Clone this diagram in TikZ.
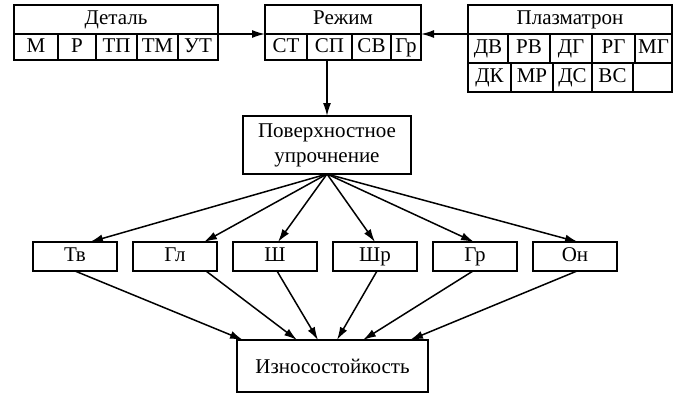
\documentclass[tikz,border=0pt]{standalone}
\usepackage{fontspec}
\setmainfont{Liberation Serif}
\usepackage{tikz}
\usetikzlibrary{arrows.meta, positioning}
\tikzset{
    cell/.style={
        rectangle, draw, line width=1.5pt,
        inner sep=0pt, outer sep=0pt,
        minimum height=26pt,
        text height=14pt, text depth=4pt
    },
    head/.style={cell, minimum width=204pt, minimum height=29pt},
    factor/.style={cell, minimum width=84pt, minimum height=29pt},
    block/.style={
        rectangle, draw, line width=1.5pt,
        align=center, inner sep=0pt, outer sep=0pt
    },
    arrow/.style={line width=1.5pt, -{Latex[length=13pt,width=8pt]}}
}
\begin{document}
\begin{tikzpicture}[x=1pt, y=-1pt, font=\fontsize{21}{25}\selectfont]
    \useasboundingbox (0,0) rectangle (678,397);

    % Tables
    \node (det) [head] at (116,19.5) {Деталь};
    \node (dm) [cell, minimum width=44pt, below right=0pt and 0pt of det.south west] {М};
    \node (dr) [cell, minimum width=38pt, right=0pt of dm] {Р};
    \node (dtp) [cell, minimum width=41pt, right=0pt of dr] {ТП};
    \node (dtm) [cell, minimum width=41pt, right=0pt of dtp] {ТМ};
    \node (dut) [cell, minimum width=40pt, right=0pt of dtm] {УТ};

    \node (rezh) [head, minimum width=156pt] at (343,19.5) {Режим};
    \node (rst) [cell, minimum width=42pt, below right=0pt and 0pt of rezh.south west] {СТ};
    \node (rsp) [cell, minimum width=45pt, right=0pt of rst] {СП};
    \node (rsv) [cell, minimum width=39pt, right=0pt of rsp] {СВ};
    \node (rgr) [cell, minimum width=30pt, right=0pt of rsv] {Гр};

    \node (plaz) [head] at (570,19.5) {Плазматрон};
    \node (pdv) [cell, minimum width=40pt, minimum height=29pt, below right=0pt and 0pt of plaz.south west] {ДВ};
    \node (prv) [cell, minimum width=42pt, minimum height=29pt, right=0pt of pdv] {РВ};
    \node (pdg) [cell, minimum width=42pt, minimum height=29pt, right=0pt of prv] {ДГ};
    \node (prg) [cell, minimum width=43pt, minimum height=29pt, right=0pt of pdg] {РГ};
    \node (pmg) [cell, minimum width=37pt, minimum height=29pt, right=0pt of prg] {МГ};
    \node (pdk) [cell, minimum width=43pt, minimum height=29pt, below right=0pt and 0pt of pdv.south west] {ДК};
    \node (pmr) [cell, minimum width=42pt, minimum height=29pt, right=0pt of pdk] {МР};
    \node (pds) [cell, minimum width=39pt, minimum height=29pt, right=0pt of pmr] {ДС};
    \node (pvs) [cell, minimum width=41pt, minimum height=29pt, right=0pt of pds] {ВС};
    \node (pnone) [cell, minimum width=39pt, minimum height=29pt, right=0pt of pvs] {};

    % Main chain
    \node (pov) [block, minimum width=168pt, minimum height=58pt] at (327,145) {Поверхностное\\упрочнение};

    \node (tv) [factor] at (75,256.5) {Тв};
    \node (gl) [factor, right=16pt of tv] {Гл};
    \node (sh) [factor, right=16pt of gl] {Ш};
    \node (shr) [factor, right=16pt of sh] {Шр};
    \node (gr) [factor, right=16pt of shr] {Гр};
    \node (on) [factor, right=16pt of gr] {Он};

    \node (izn) [block, minimum width=191pt, minimum height=52pt] at (332.5,366) {Износостойкость};

    \draw [arrow] (det.south east) -- (rezh.south west);
    \draw [arrow] (plaz.south west) -- (rezh.south east);
    \draw [arrow] (rsp.south -| pov.north) -- (pov.north);

    \draw [arrow] (pov.south) -- ([xshift=15pt]tv.north);
    \draw [arrow] (pov.south) -- ([xshift=29pt]gl.north);
    \draw [arrow] (pov.south) -- ([xshift=3pt]sh.north);
    \draw [arrow] (pov.south) -- (shr.north);
    \draw [arrow] (pov.south) -- ([xshift=-1pt]gr.north);
    \draw [arrow] (pov.south) -- ([xshift=3pt]on.north);

    \draw [arrow] (tv.south) -- ([xshift=-89.5pt]izn.north);
    \draw [arrow] ([xshift=31pt]gl.south) -- ([xshift=-35.5pt]izn.north);
    \draw [arrow] ([xshift=2pt]sh.south) -- ([xshift=-14.5pt]izn.north);
    \draw [arrow] ([xshift=2pt]shr.south) -- ([xshift=4.5pt]izn.north);
    \draw [arrow] ([xshift=-2pt]gr.south) -- ([xshift=30.5pt]izn.north);
    \draw [arrow] ([xshift=2pt]on.south) -- ([xshift=77.5pt]izn.north);
\end{tikzpicture}
\end{document}
